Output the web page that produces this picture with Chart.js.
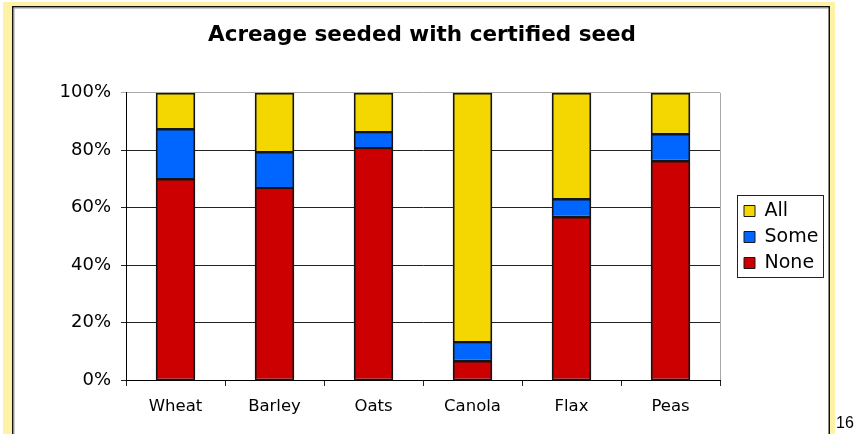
<!DOCTYPE html>
<html>
<head>
<meta charset="utf-8">
<script src="https://cdn.jsdelivr.net/npm/chart.js@4/dist/chart.umd.min.js"></script>
<style>
  html, body { margin: 0; padding: 0; background: #fff; width: 856px; height: 434px; overflow: hidden; }
  #wrap { position: absolute; left: 0; top: 0; width: 856px; height: 434px; }
  #page { position: absolute; left: 836px; top: 415px; font: 16px "Liberation Sans", Arial, sans-serif; line-height: 16px; color: #000; }
</style>
</head>
<body>
<div id="wrap"><canvas id="c" width="856" height="434"></canvas></div>
<div id="page">16</div>
<script>
const chartTitle = "Acreage seeded with certified seed";
const categories = ["Wheat", "Barley", "Oats", "Canola", "Flax", "Peas"];
const seriesNames = ["None", "Some", "All"];
const noneValues = [70.0, 66.7, 80.7, 6.7, 56.8, 76.3];
const someValues = [17.5, 12.7, 5.5, 6.4, 6.3, 9.4];
const allValues  = [12.5, 20.6, 13.8, 86.9, 36.9, 14.3];
const yTicks = [0, 20, 40, 60, 80, 100];

const colors = { None: "#cc0000", Some: "#0066ff", All: "#f4d700" };
const valuesByName = { None: noneValues, Some: someValues, All: allValues };

Chart.defaults.font.family = "Verdana, 'DejaVu Sans', sans-serif";
Chart.defaults.color = "#000";

const framePlugin = {
  id: "frame",
  beforeDraw(chart) {
    const ctx = chart.ctx;
    ctx.save();
    ctx.fillStyle = "#fff";
    ctx.fillRect(0, 0, chart.width, chart.height);
    ctx.fillStyle = "#fdf2a6";
    ctx.fillRect(3, 2, 9, 432);      // left band
    ctx.fillRect(3, 2, 832, 4.5);    // top band
    ctx.fillRect(830, 2, 5, 432);    // right band
    ctx.strokeStyle = "#111";
    ctx.lineWidth = 1.5;
    ctx.beginPath();
    ctx.moveTo(12.75, 440); ctx.lineTo(12.75, 6.75); ctx.lineTo(829.25, 6.75); ctx.lineTo(829.25, 440);
    ctx.stroke();
    ctx.strokeStyle = "#999";
    ctx.lineWidth = 1;
    ctx.beginPath();
    ctx.moveTo(14, 440); ctx.lineTo(14, 8); ctx.lineTo(828, 8);
    ctx.stroke();
    ctx.restore();
  },
  beforeLayout(chart) {
    const lg = chart.legend;
    if (lg && !lg._fixedFit) {
      const orig = lg.fit.bind(lg);
      lg.fit = function () { orig(); this.width = 111; };
      lg._fixedFit = true;
    }
  },
  afterLayout(chart) {
    const lg = chart.legend;
    if (lg) { lg.left += 17; lg.right += 17; lg.top += 20; lg.bottom += 20; }
  },
  afterDatasetsDraw(chart) {
    // crisp dark outline around every bar segment, using the library's element geometry
    const ctx = chart.ctx;
    ctx.save();
    ctx.strokeStyle = "#151515";
    ctx.lineWidth = 1.5;
    chart.data.datasets.forEach((ds, i) => {
      const meta = chart.getDatasetMeta(i);
      meta.data.forEach(bar => {
        const p = bar.getProps(["x", "y", "base", "width"], true);
        const left = Math.round(p.x - p.width / 2);
        const right = Math.round(p.x + p.width / 2);
        const top = Math.round(Math.min(p.y, p.base));
        const bottom = Math.round(Math.max(p.y, p.base));
        ctx.strokeRect(left + 0.75, top + 0.75, right - left - 1.5, bottom - top - 1.0);
      });
    });
    ctx.restore();
  },
  afterDraw(chart) {
    const ctx = chart.ctx;
    const a = chart.chartArea;
    ctx.save();
    ctx.strokeStyle = "#a8a8a8";
    ctx.lineWidth = 1;
    ctx.beginPath();
    ctx.moveTo(a.right + 0.5, a.top);
    ctx.lineTo(a.right + 0.5, a.bottom);
    ctx.stroke();
    const lg = chart.legend;
    if (lg && lg.legendHitBoxes && lg.legendHitBoxes.length) {
      const hb = lg.legendHitBoxes;
      const top = hb[0].top - 7;
      const bottom = hb[hb.length - 1].top + hb[hb.length - 1].height + 4;
      ctx.strokeStyle = "#222";
      ctx.lineWidth = 1;
      ctx.strokeRect(Math.round(lg.left) + 0.5, Math.round(top) + 0.5, 86, Math.round(bottom - top));
    }
    ctx.restore();
  }
};

const datasets = seriesNames.map(name => ({
  label: name,
  data: valuesByName[name],
  backgroundColor: colors[name],
  borderColor: "#1a1a1a",
  borderWidth: 1,
  borderSkipped: false,
  inflateAmount: 0,
  categoryPercentage: 1.0,
  barPercentage: 0.4
}));

new Chart(document.getElementById("c"), {
  type: "bar",
  data: { labels: categories, datasets },
  options: {
    responsive: false,
    animation: false,
    devicePixelRatio: 1,
    layout: { padding: { left: 13, right: 25, top: 0, bottom: 0 } },
    plugins: {
      title: {
        display: true,
        text: chartTitle,
        color: "#000",
        font: { size: 21.5, weight: "bold", lineHeight: 1.2 },
        padding: { top: 23, bottom: 44 }
      },
      legend: {
        display: true,
        position: "right",
        align: "center",
        reverse: true,
        labels: {
          boxWidth: 11,
          boxHeight: 11,
          padding: 7,
          color: "#000",
          font: { size: 19 }
        }
      },
      tooltip: { enabled: false }
    },
    scales: {
      x: {
        stacked: true,
        grid: { display: true, drawOnChartArea: false, drawTicks: true, tickLength: 6, color: "#222", offset: true },
        border: { display: true, color: "#000", width: 1 },
        ticks: { font: { size: 16.5 }, color: "#000", padding: 11, maxRotation: 0 },
        afterFit(scale) { scale.height = 54; }
      },
      y: {
        stacked: true,
        min: 0,
        max: 100,
        afterBuildTicks(scale) { scale.ticks = yTicks.map(v => ({ value: v })); },
        ticks: { font: { size: 18 }, color: "#000", padding: 10, callback: v => v + "%" },
        grid: {
          color: c => (c.tick && c.tick.value === 100) ? "#a8a8a8" : "#222",
          tickLength: 5,
          drawTicks: true
        },
        border: { display: true, color: "#000", width: 1 },
        afterFit(scale) { scale.width = 113; }
      }
    }
  },
  plugins: [framePlugin]
});
</script>
</body>
</html>
